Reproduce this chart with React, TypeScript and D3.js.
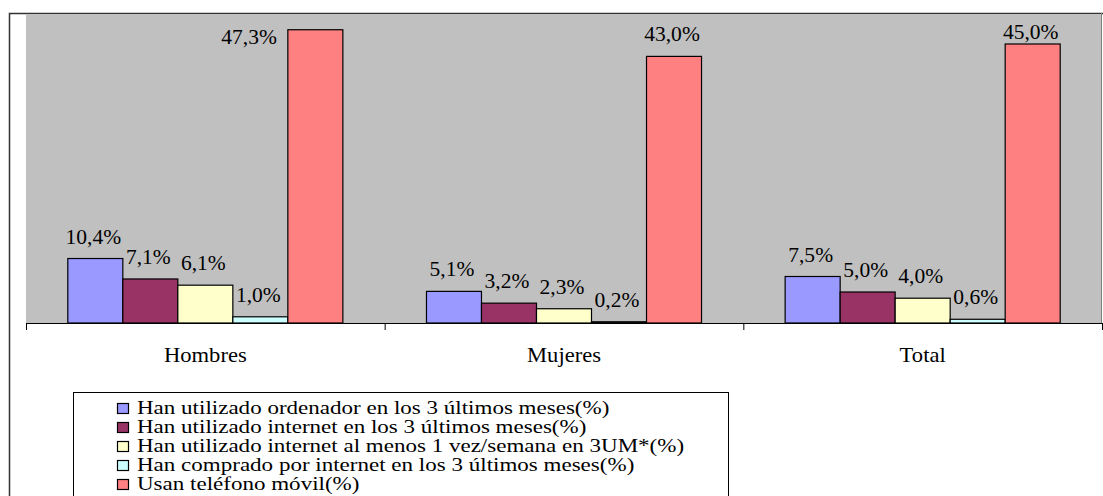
import React from "react";
import * as d3 from "d3";

const categories = ["Hombres", "Mujeres", "Total"];
const seriesNames = [
  "Han utilizado ordenador en los 3 últimos meses(%)",
  "Han utilizado internet en los 3 últimos meses(%)",
  "Han utilizado internet al menos 1 vez/semana en 3UM*(%)",
  "Han comprado por internet en los 3 últimos meses(%)",
  "Usan teléfono móvil(%)",
];
const ordenador = [10.4, 5.1, 7.5];
const internet = [7.1, 3.2, 5.0];
const semanal = [6.1, 2.3, 4.0];
const comprado = [1.0, 0.2, 0.6];
const movil = [47.3, 43.0, 45.0];
const seriesValues = [ordenador, internet, semanal, comprado, movil];
const colors = ["#9999FF", "#993366", "#FFFFCC", "#CCFFFF", "#FF8080"];
const yTicks = [0, 50];

const W = 1103;
const H = 496;
const plot = { left: 26, right: 1102, top: 13, bottom: 323 };
const FONT = "Liberation Serif";

const fmt = (v: number) => v.toFixed(1).replace(".", ",") + "%";

export default function App() {
  const x0 = d3.scaleBand<string>().domain(categories).range([plot.left, plot.right]).padding(0);
  const x1 = d3
    .scaleBand<number>()
    .domain(d3.range(seriesNames.length))
    .range([0, x0.bandwidth()])
    .paddingInner(0)
    .paddingOuter(0.76);
  const y = d3.scaleLinear().domain([yTicks[0], yTicks[1]]).range([plot.bottom, plot.top]);

  const bars: any[] = [];
  const labels: any[] = [];
  categories.forEach((c, ci) => {
    seriesValues.forEach((vals, si) => {
      const v = vals[ci];
      const bx = (x0(c) as number) + (x1(si) as number);
      const bw = x1.bandwidth();
      const by = y(v);
      bars.push(
        <rect
          key={`b-${ci}-${si}`}
          x={bx}
          y={by}
          width={bw}
          height={plot.bottom - by}
          fill={colors[si]}
          stroke="#000"
          strokeWidth={1.2}
        />
      );
      let baseline = Math.max(by - 15, plot.top + 26);
      let lx = bx + bw / 2 - 2;
      let anchor: "middle" | "end" = "middle";
      if (baseline > by) {
        anchor = "end";
        lx = bx - 11;
        baseline = by + 14.5;
      }
      labels.push(
        <text
          key={`l-${ci}-${si}`}
          transform={`translate(${lx},${baseline}) scale(1.05,1)`}
          textAnchor={anchor}
          style={{ fontFamily: FONT, fontSize: "20.5px" }}
          fill="#000"
        >
          {fmt(v)}
        </text>
      );
    });
  });

  const tickXs = [...categories.map((c) => x0(c) as number), plot.right];

  const legend = { x: 73, y: 392, w: 655, rowH: 19, firstBase: 414, sqX: 117, sqSize: 11, textX: 137 };

  return (
    <svg
      width={W}
      height={H}
      style={{ position: "absolute", left: 0, top: 0, background: "#fff" }}
    >
      <rect x={0} y={0} width={W} height={H} fill="#fff" />
      {/* outer chart frame */}
      <rect x={9.5} y={13.5} width={W + 20} height={H + 20} fill="none" stroke="#333" strokeWidth={1.5} />
      {/* plot area */}
      <rect x={plot.left} y={plot.top + 1} width={plot.right - plot.left - 1} height={plot.bottom - plot.top - 1} fill="#C0C0C0" />
      <line x1={plot.right - 0.5} x2={plot.right - 0.5} y1={plot.top} y2={plot.bottom} stroke="#808080" strokeWidth={1} />
      {bars}
      {/* category axis */}
      <line x1={plot.left} x2={plot.right} y1={plot.bottom + 0.5} y2={plot.bottom + 0.5} stroke="#000" strokeWidth={1.2} />
      {tickXs.map((tx, i) => (
        <line key={`t-${i}`} x1={tx + 0.5} x2={tx + 0.5} y1={plot.bottom} y2={plot.bottom + 7} stroke="#000" strokeWidth={1} />
      ))}
      {categories.map((c) => (
        <text
          key={`c-${c}`}
          transform={`translate(${(x0(c) as number) + x0.bandwidth() / 2},362) scale(1.13,1)`}
          textAnchor="middle"
          style={{ fontFamily: FONT, fontSize: "20px" }}
          fill="#000"
        >
          {c}
        </text>
      ))}
      {labels}
      {/* legend */}
      <rect x={legend.x + 0.5} y={legend.y + 0.5} width={legend.w} height={H} fill="#fff" stroke="#000" strokeWidth={1} />
      {seriesNames.map((s, i) => {
        const base = legend.firstBase + i * legend.rowH;
        return (
          <g key={`lg-${i}`}>
            <rect
              x={legend.sqX + 0.5}
              y={base - 10.5}
              width={legend.sqSize}
              height={legend.sqSize - 1}
              fill={colors[i]}
              stroke="#000"
              strokeWidth={1.2}
            />
            <text
              transform={`translate(${legend.textX},${base}) scale(1.245,1)`}
              style={{ fontFamily: FONT, fontSize: "18.5px" }}
              fill="#000"
            >
              {s}
            </text>
          </g>
        );
      })}
    </svg>
  );
}
